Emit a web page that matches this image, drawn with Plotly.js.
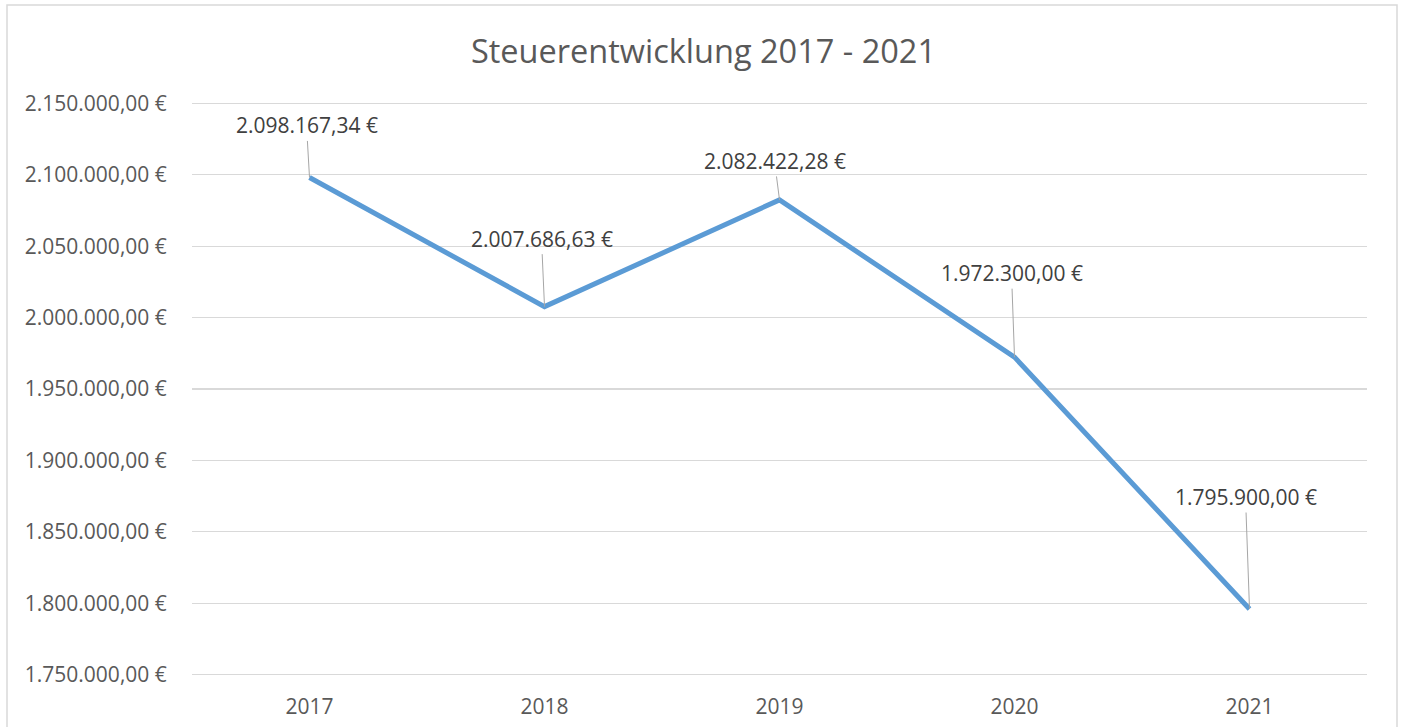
<!DOCTYPE html>
<html>
<head>
<meta charset="utf-8">
<script src="https://cdn.plot.ly/plotly-3.0.1.min.js"></script>
<style>
  html, body { margin: 0; padding: 0; background: #ffffff; }
  #chart { width: 1407px; height: 727px; }
</style>
</head>
<body>
<div id="chart"></div>
<script>
// ---- data ----
const years = ["2017", "2018", "2019", "2020", "2021"];
const taxValues = [2098167.34, 2007686.63, 2082422.28, 1972300.00, 1795900.00];
const yTickValues = [1750000, 1800000, 1850000, 1900000, 1950000, 2000000, 2050000, 2100000, 2150000];
const chartTitle = "Steuerentwicklung 2017 - 2021";

// label offsets (pixels) for the data-label callouts
const labelOffsetX = [-3, -3, -5, -3, -4];
const labelOffsetY = [-52, -68, -39, -84, -112];

function formatEuro(v) {
  const parts = v.toFixed(2).split(".");
  const intPart = parts[0].replace(/\B(?=(\d{3})+(?!\d))/g, ".");
  return intPart + "," + parts[1] + " €";
}

const FONT = "'Open Sans', 'Noto Sans', sans-serif";

const trace = {
  type: "scatter",
  mode: "lines",
  x: years,
  y: taxValues,
  line: { color: "#5b9bd5", width: 5, shape: "linear" },
  hoverinfo: "skip",
  cliponaxis: false
};

// category axes take the serial index of the category for annotations
const annotations = years.map((yr, i) => ({
  x: i,
  y: taxValues[i],
  xref: "x",
  yref: "y",
  text: formatEuro(taxValues[i]),
  showarrow: true,
  arrowhead: 0,
  arrowwidth: 1,
  arrowcolor: "#a6a6a6",
  ax: labelOffsetX[i],
  ay: labelOffsetY[i],
  font: { family: FONT, size: 21, color: "#404040" },
  borderpad: 1
}));

const layout = {
  width: 1407,
  height: 727,
  margin: { l: 192, r: 40, t: 102, b: 51 },
  paper_bgcolor: "#ffffff",
  plot_bgcolor: "#ffffff",
  showlegend: false,
  title: {
    text: chartTitle,
    font: { family: FONT, size: 32.5, color: "#595959" },
    x: 0.5,
    xref: "container",
    y: 1 - 52 / 727,
    yref: "container",
    yanchor: "middle"
  },
  xaxis: {
    type: "category",
    range: [-0.5, 4.5],
    showgrid: false,
    zeroline: false,
    showline: false,
    ticks: "outside",
    ticklen: 12,
    tickcolor: "rgba(0,0,0,0)",
    tickfont: { family: FONT, size: 21, color: "#595959" },
    fixedrange: true
  },
  yaxis: {
    range: [1749000, 2151000],
    tickmode: "array",
    tickvals: yTickValues,
    ticktext: yTickValues.map(formatEuro),
    showgrid: true,
    gridcolor: "#d9d9d9",
    gridwidth: 1.3,
    zeroline: false,
    showline: false,
    ticks: "outside",
    ticklen: 20,
    tickcolor: "rgba(0,0,0,0)",
    tickfont: { family: FONT, size: 21, color: "#595959" },
    fixedrange: true
  },
  annotations: annotations,
  shapes: [{
    type: "rect",
    xref: "paper",
    yref: "paper",
    x0: (7 - 192) / 1175,
    x1: (1397 - 192) / 1175,
    y0: (676 - 760) / 574,
    y1: (676 - 5) / 574,
    line: { color: "#d9d9d9", width: 1.5 },
    fillcolor: "rgba(0,0,0,0)",
    layer: "below"
  }]
};

Plotly.newPlot("chart", [trace], layout, { staticPlot: true, displayModeBar: false });
</script>
</body>
</html>
